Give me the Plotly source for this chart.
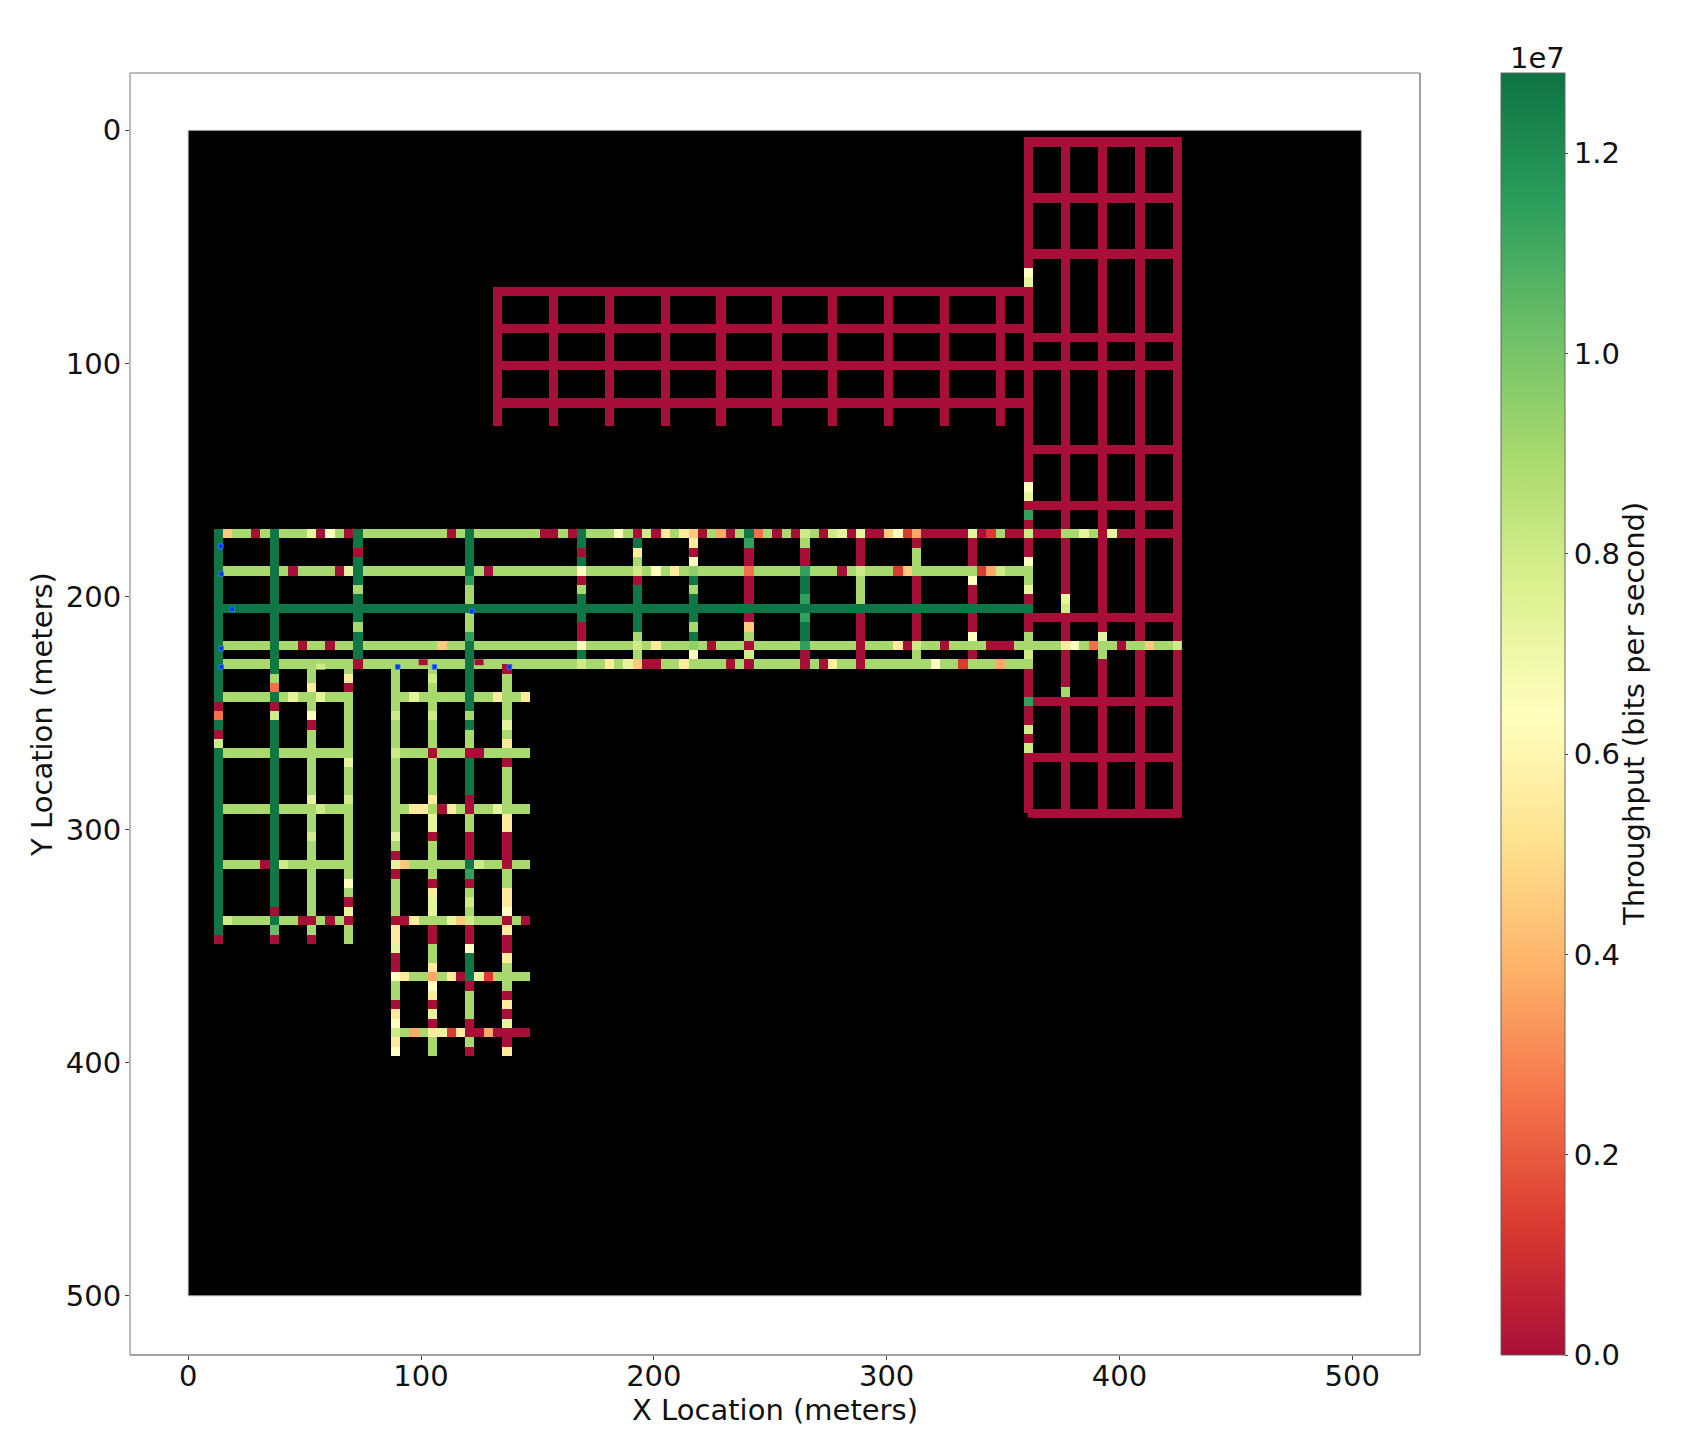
import plotly.graph_objects as go

# ---------- value codes (bits per second) ----------
CODE_VALUES = {
    "R": 0.0, "E": 0.13e7, "T": 0.25e7, "o": 0.37e7, "O": 0.45e7, "P": 0.55e7, "Y": 0.64e7,
    "y": 0.73e7, "l": 0.80e7, "L": 0.90e7, "m": 0.95e7, "M": 1.03e7, "F": 1.14e7, "G": 1.27e7,
}

# ---------- central strip, east-west streets ----------
row_173 = ("GOLLRLGLLLyRYLRGLLLLLLLLLRLGLLLLLLLRRLRGL"
           "LLYLRlRPLPORLoRLGTLRLRlLRlyRyRROYEo"
           "RRRRRyRELRRl" "RRRLLyLRy" "RRRRRRR")
row_189 = ("GLLLLLGLRLLLLRyG" "LLLLLLLLLLL" "GLR" "LLLLLLLLL" "YL"
           "LLLLlLYLPLmLLLLLTLLLLLFLLLRLlLLLEOLLLLLLLEolLLL")
row_205 = ("GGGGGGGGGGGGGGGGGGGGGGGGGGGGGGGGGGGGGGGGGGGGGG"
           "GGGGGGGGGGGGGGGGGGGGGGGGGGGGGGGGGGGGGGGGG")
row_221 = ("GLLLLLGLLRLLRLLG" "LLLLLLLL" "OLL" "G" "LLLLLLLLLLL" "YL"
           "LLLLlLPLLLmLRLLLRLLLLLFLLLLLRLLLPRlLLRLLLLRRRLL"
           "LLLPYLTLLRLLOLLl")
row_229 = ("GLLLLLGLLLLLLLLR" "LLLLLLLLLLL" "G" "LLLLLLLLLLL"
           "lLLPLyORRLLPLLLLRLRLLLLLRLRPLLRLL" "LLLLLYLLELLLoLLL")

# ---------- central strip, north-south streets (cells between y=175 and y=227) ----------
col_13 = "GGGGGGGGGGGGG"
col_37 = "GGGGGGGGGGGGG"
col_73 = "GRGGGLGGGLGGG"
col_121 = "GGGGFLLGLLFGG"
col_169 = "GRGYRLGGGRRYG"
col_193 = "GPLlRGGGGGLLL"
col_217 = "PRYmGLGGGLGmY"
col_241 = "FRRTRRRGROLRl"
col_265 = "LRRFGGFGFGGFR"
col_289 = "RRRLLLLGRRRRR"
col_313 = "RLLLRRRGRRRlL"
col_337 = "RRRLYRRGRRYLR"

# ---------- east block, north-south streets ----------
east_361 = ("RRRRRRRRRRRRRRYy" "RRRRRRRRRRRRRRRRRRRRR" "YyRFRlRRYLLyRGRRLLlL"
            "RRRFRRlRlRRRRRR")
east_377 = ("RRRRRRRRRRRRRRRRRRRRRRRRRRRRRRRRRRRRRRRRRRRRRRRRR" "yl" "RRRRRRRR" "L" "RRRRRRRRRRRRR")
east_393 = ("RRRRRRRRRRRRRRRRRRRRRRRRRRRRRRRRRRRRRRRRRRRRRRRRRRRRR" "yLL" "RRRRRRRRRRRRRRRRR")
east_409 = "RRRRRRRRRRRRRRRRRRRRRRRRRRRRRRRRRRRRRRRRRRRRRRRRRRRRRRRRRRRRRRRRRRRRRRRRR"
east_425 = "RRRRRRRRRRRRRRRRRRRRRRRRRRRRRRRRRRRRRRRRRRRRRRRRRRRRRRRRRRRRRRRRRRRRRRRRR"
east_cross = "RRRRRRRRRRRRRRRR"
east_cross_y = [5, 29, 53, 89, 101, 137, 161, 209, 245, 269, 293]

# ---------- north block ----------
north_cross = "RRRRRRRRRRRRRRRRRRRRRRRRRRRRRRRRRRRRRRRRRRRRRRRRRRRRRRRRR"
north_cross_y = [69, 85, 101, 117]
north_stub = "RRRRRRRRRRRRRRR"
north_stub_x = [133, 157, 181, 205, 229, 253, 277, 301, 325, 349]

# ---------- south-west block ----------
sw_13 = "GGGGRTGRl" "GGGGGGGGGGGGGGGGGGGG" "R"
sw_37 = "GLTGRl" "GGGGGGGGGGGGGGGGGGGG" "RGMR"
sw_53 = "LLPLLYR" "LLLLLLL" "y" "LLL" "l" "LLLLLLLL" "RLR"
sw_69 = "LPRLLLLLLLyLLLlL" "LLLLLLL" "YLRyRLL"
sw_row_243 = "GLLLLLGLyLLyLLL"
sw_row_267 = "GLLLLLGLLLLLLLL"
sw_row_291 = "GLLLLLGLLLLlLLL"
sw_row_315 = "GLLLLRGlLLLLLLL"
sw_row_339 = "GlLLLLGLLRRLRLR"

# ---------- south block ----------
s_89 = "LLLLLlLLLl" "LLLLLLLL" "yLRyR" "LLLL" "RPPyRRYLLRPYlPY"
s_105 = "LlLLLlLLLRLLLLPLyyRLLLLRPyyLRRLLPoYPRyRPLL"
s_121 = "GGGGGLGLLRGGGGRRLLRRRGFRLlLlRRYGGGRLLLRRLR"
s_137 = "RLLLLLyLPLRLLLLLPPRRRRLLPPYRPRRPLLLRPRyRRP"
s_row_243 = "LLyLLLLLGLLPLLP"
s_row_267 = "lLLLRLLLRRLLLLL"
s_row_291 = "LLPPLRPLRLLyLLL"
s_row_315 = "yOLLLLLLGlLLRLL"
s_row_339 = "RRPLLLyOlLLLRLR"
s_row_363 = "YPLLoLPRGyELLLL"
s_row_387 = "lLoLPyEPRRoRRRR"

# ---------- small measurement points ----------
point_x = [14.0, 14.2, 18.9, 121.8, 14.2, 14.2, 90.0, 105.8, 138.0]
point_y = [178.4, 190.3, 205.4, 206.3, 222.3, 230.2, 230.2, 230.2, 230.2]

# ---------- ticks ----------
x_ticks = [0, 100, 200, 300, 400, 500]
y_ticks = [0, 100, 200, 300, 400, 500]
bar_ticks = [0, 2e6, 4e6, 6e6, 8e6, 1e7, 1.2e7]
bar_labels = ["0.0", "0.2", "0.4", "0.6", "0.8", "1.0", "1.2"]

# ---------- styling / layout ----------
FONT = "DejaVu Sans"
TICK_SIZE = 29
LABEL_SIZE = 29
SCALE = [[0.0, "#a80f38"], [0.1, "#d93a30"], [0.2, "#f4744b"], [0.3, "#fdb168"], [0.4, "#fee28f"],
         [0.5, "#ffffbf"], [0.6, "#dcf08f"], [0.7, "#a9da6e"], [0.8, "#6cbf68"], [0.9, "#2a9d5b"],
         [1.0, "#0e7344"]]
STEP = 4.0
N_COLS = 107


def blank(rows):
    return [[None] * N_COLS for _ in range(rows)]


def col_of(x):
    return int(round((x - 1) / STEP))


def across(grid, y, y0, x_start, codes):
    row = int(round((y - y0) / STEP))
    start = col_of(x_start)
    for k, c in enumerate(codes):
        grid[row][start + k] = CODE_VALUES[c]


def down(grid, x, y0, y_start, codes):
    col = col_of(x)
    start = int(round((y_start - y0) / STEP))
    for k, c in enumerate(codes):
        grid[start + k][col] = CODE_VALUES[c]


# upper tile (north, east and central blocks), cell centres at 1 + 4k
Y0_MAIN = 1.0
main = blank(74)
for x in north_stub_x:
    down(main, x, Y0_MAIN, 69, north_stub)
for y in north_cross_y:
    across(main, y, Y0_MAIN, 133, north_cross)
down(main, 361, Y0_MAIN, 5, east_361)
down(main, 377, Y0_MAIN, 5, east_377)
down(main, 393, Y0_MAIN, 5, east_393)
down(main, 409, Y0_MAIN, 5, east_409)
down(main, 425, Y0_MAIN, 5, east_425)
for y in east_cross_y:
    across(main, y, Y0_MAIN, 365, east_cross)
for x, codes in [(13, col_13), (37, col_37), (73, col_73), (121, col_121), (169, col_169), (193, col_193),
                 (217, col_217), (241, col_241), (265, col_265), (289, col_289), (313, col_313), (337, col_337)]:
    down(main, x, Y0_MAIN, 177, codes)
for y, codes in [(173, row_173), (189, row_189), (205, row_205), (221, row_221), (229, row_229)]:
    across(main, y, Y0_MAIN, 13, codes)

# lower tile (south-west and south blocks), cell centres at 3.2 + 4k
Y0_LOW = 3.2
low = blank(100)
for x, codes in [(13, sw_13), (37, sw_37), (53, sw_53), (69, sw_69)]:
    down(low, x, Y0_LOW, 231.2, codes)
for x, codes in [(89, s_89), (105, s_105), (121, s_121), (137, s_137)]:
    down(low, x, Y0_LOW, 231.2, codes)
for y, codes in [(243.2, sw_row_243), (267.2, sw_row_267), (291.2, sw_row_291), (315.2, sw_row_315), (339.2, sw_row_339)]:
    across(low, y, Y0_LOW, 13, codes)
for y, codes in [(243.2, s_row_243), (267.2, s_row_267), (291.2, s_row_291), (315.2, s_row_315), (339.2, s_row_339),
                 (363.2, s_row_363), (387.2, s_row_387)]:
    across(low, y, Y0_LOW, 89, codes)

fig = go.Figure()


def add_tile(z, x0, dx, y0, dy):
    fig.add_trace(go.Heatmap(z=z, x0=x0, dx=dx, y0=y0, dy=dy, coloraxis="coloraxis",
                             hoverinfo="skip", showlegend=False, zsmooth=False))


add_tile(main, 1, STEP, Y0_MAIN, STEP)
add_tile(low, 1, STEP, Y0_LOW, STEP)
# thin slivers where neighbouring tiles overlap
add_tile([[CODE_VALUES["R"]]], 101, 4, 228.1, 2.4)
add_tile([[CODE_VALUES["R"]]], 125, 4, 228.1, 2.4)
add_tile([[CODE_VALUES["l"]]], 57, 4, 230, 2.4)
add_tile([[CODE_VALUES["R"]]], 361, 4, 291, 4)
add_tile([[CODE_VALUES["R"]]], 361.75, 2.5, 293, 4)

fig.add_trace(go.Scatter(x=point_x, y=point_y, mode="markers", showlegend=False, hoverinfo="skip",
                         marker=dict(symbol="square", size=4.5, color="#0a2ee0",
                                     line=dict(color="#2a7bff", width=1))))

fig.add_shape(type="rect", xref="x", yref="y", x0=0, x1=503.9, y0=0, y1=500, layer="below",
              fillcolor="black", line=dict(color="#a8a8a8", width=1))
# frame: pale on the top and left, dark on the right and bottom
for x0, y0, x1, y1, colour, width in [(0, 1, 1, 1, "#a6a6a6", 1.5), (0, 0, 0, 1, "#a6a6a6", 1.5),
                                      (1, 0, 1, 1, "#444444", 1), (0, 0, 1, 0, "#444444", 1)]:
    fig.add_shape(type="line", xref="paper", yref="paper", x0=x0, y0=y0, x1=x1, y1=y1, layer="above",
                  line=dict(color=colour, width=width))

axis_common = dict(showgrid=False, zeroline=False, ticks="outside", ticklen=4, tickwidth=1, tickcolor="#444",
                   showline=False, tickfont=dict(family=FONT, size=TICK_SIZE, color="#111"))
fig.update_layout(
    width=1705, height=1448, autosize=False,
    margin=dict(l=130, r=285, t=73, b=93, pad=0),
    paper_bgcolor="white", plot_bgcolor="white",
    font=dict(family=FONT, color="#111"),
    xaxis=dict(range=[-25, 529.1], tickmode="array", tickvals=x_ticks, ticktext=[str(v) for v in x_ticks],
               ticklabelstandoff=-9,
               title=dict(text="X Location (meters)", font=dict(family=FONT, size=LABEL_SIZE), standoff=2),
               **axis_common),
    yaxis=dict(range=[525.4, -24.6], tickmode="array", tickvals=y_ticks, ticktext=[str(v) for v in y_ticks],
               ticklabelstandoff=-2,
               title=dict(text="Y Location (meters)", font=dict(family=FONT, size=LABEL_SIZE), standoff=4),
               **axis_common),
    coloraxis=dict(
        cmin=0, cmax=1.28e7, colorscale=SCALE,
        colorbar=dict(
            x=1.063, xanchor="left", y=0.5, yanchor="middle", len=1, lenmode="fraction",
            thickness=64, thicknessmode="pixels", outlinecolor="#666", outlinewidth=1,
            ticks="outside", ticklen=3, tickwidth=1, tickcolor="#444",
            tickmode="array", tickvals=bar_ticks, ticktext=bar_labels,
            tickfont=dict(family=FONT, size=TICK_SIZE, color="#111"),
            xpad=0, ypad=0,
        ),
    ),
    annotations=[
        dict(text="1e7", xref="paper", yref="paper", x=1.0912, y=1.0, xanchor="center", yanchor="bottom",
             showarrow=False, yshift=-4, font=dict(family=FONT, size=TICK_SIZE, color="#111")),
        dict(text="Throughput (bits per second)", xref="paper", yref="paper", x=1.1659, y=0.5, xanchor="center",
             yanchor="middle", textangle=-90, showarrow=False, font=dict(family=FONT, size=LABEL_SIZE, color="#111")),
    ],
)

fig.write_html("out.html", post_script="document.body.style.margin='0';", config={"displayModeBar": False})
